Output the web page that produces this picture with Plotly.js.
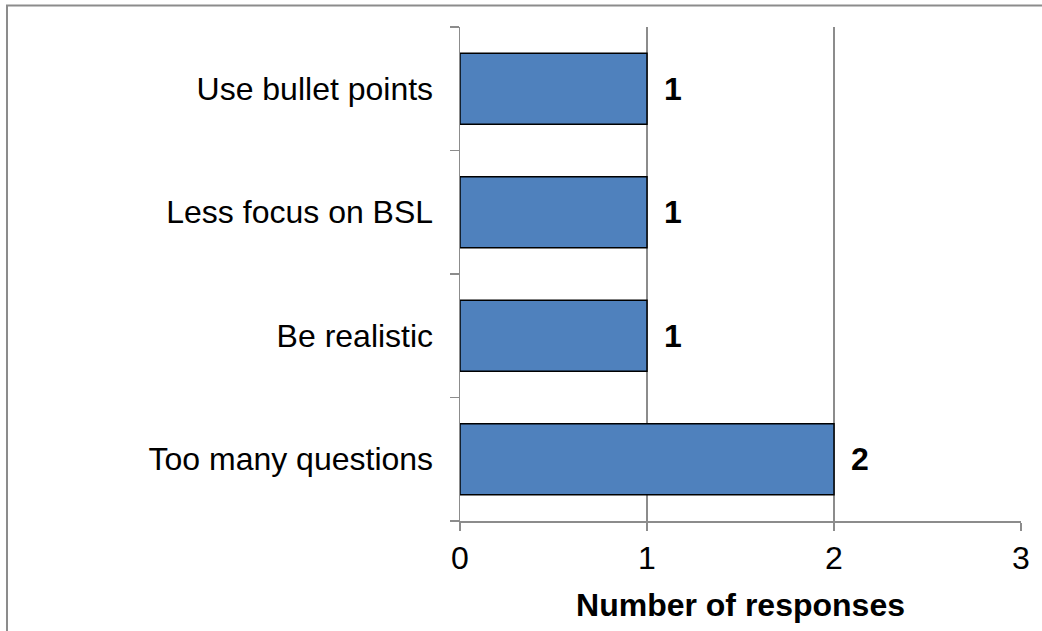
<!DOCTYPE html>
<html>
<head>
<meta charset="utf-8">
<script src="https://cdn.plot.ly/plotly-3.0.1.min.js"></script>
<style>html,body{margin:0;padding:0;background:#fff;}#chart{width:1042px;height:631px;}</style>
</head>
<body>
<div id="chart"></div>
<script>
const categories = ["Too many questions", "Be realistic", "Less focus on BSL", "Use bullet points"];
const responses = [2, 1, 1, 1];
const xTickValues = [0, 1, 2, 3];
const xAxisTitle = "Number of responses";

const FONT = "Liberation Sans, Arial, sans-serif";
const FS = 32;

const trace = {
  type: "bar",
  orientation: "h",
  y: categories,
  x: responses,
  marker: {color: "#4F81BD", line: {color: "#000000", width: 1.5}},
  hoverinfo: "skip"
};

const annotations = categories.map((c, i) => ({
  x: responses[i], y: c, xref: "x", yref: "y",
  text: "<b>" + responses[i] + "</b>",
  showarrow: false, xanchor: "left", yanchor: "middle", xshift: 15,
  font: {family: FONT, size: FS, color: "#000"}
}));

const layout = {
  width: 1042, height: 631,
  margin: {l: 460, r: 21, t: 27, b: 110},
  paper_bgcolor: "#ffffff", plot_bgcolor: "#ffffff",
  showlegend: false,
  bargap: 0.425,
  font: {family: FONT, size: FS, color: "#000"},
  xaxis: {
    range: [0, 3], tickvals: xTickValues, ticktext: xTickValues.map(String),
    showgrid: true, gridcolor: "#8c8c8c", gridwidth: 1.5,
    zeroline: false, showline: true, linecolor: "#8c8c8c", linewidth: 1.5,
    ticks: "outside", ticklen: 8, tickcolor: "#8c8c8c", tickwidth: 1.5,
    tickfont: {family: FONT, size: FS, color: "#000"},
    title: {text: "<b>" + xAxisTitle + "</b>", font: {family: FONT, size: FS, color: "#000"}, standoff: 18},
    fixedrange: true
  },
  yaxis: {
    type: "category", categoryorder: "array", categoryarray: categories,
    range: [-0.5, 3.5], autorange: false,
    showgrid: false, zeroline: false, showline: true, linecolor: "#8c8c8c", linewidth: 1.5,
    ticks: "outside", tickson: "boundaries", ticklen: 9, tickcolor: "#8c8c8c", tickwidth: 1.5,
    tickfont: {family: FONT, size: FS, color: "#000"},
    ticklabelstandoff: 19,
    fixedrange: true
  },
  shapes: [{
    type: "rect", xref: "paper", yref: "paper",
    x0: -0.8075, x1: 1.2, y0: -0.5, y1: 1.0435,
    line: {color: "#8c8c8c", width: 2}, fillcolor: "rgba(0,0,0,0)", layer: "below"
  }],
  annotations: annotations
};

Plotly.newPlot("chart", [trace], layout, {staticPlot: true, displayModeBar: false});
</script>
</body>
</html>
